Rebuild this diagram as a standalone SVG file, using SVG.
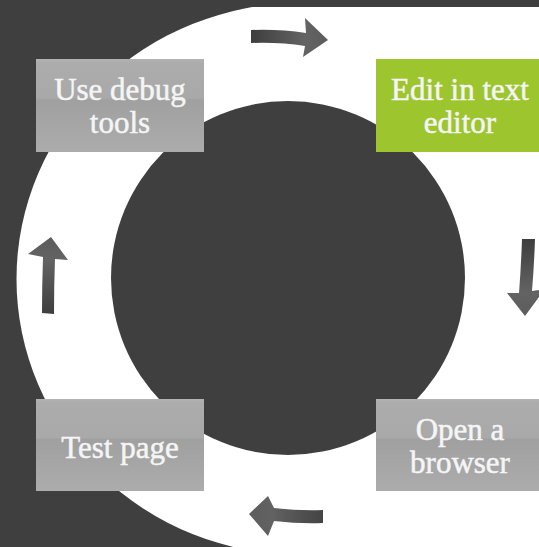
<svg xmlns="http://www.w3.org/2000/svg" width="539" height="547" viewBox="0 0 539 547">
  <defs>
    <linearGradient id="gloss" x1="0" y1="0" x2="0" y2="1">
      <stop offset="0" stop-color="#b3b3b3"/>
      <stop offset="0.04" stop-color="#acacac"/>
      <stop offset="0.42" stop-color="#a9a9a9"/>
      <stop offset="0.44" stop-color="#a0a0a0"/>
      <stop offset="1" stop-color="#acacac"/>
    </linearGradient>
    <linearGradient id="gR" x1="0" y1="0" x2="1" y2="0">
      <stop offset="0" stop-color="#3e3e3e"/>
      <stop offset="0.7" stop-color="#636363"/>
      <stop offset="1" stop-color="#5c5c5c"/>
    </linearGradient>
    <linearGradient id="gD" x1="0" y1="0" x2="0" y2="1">
      <stop offset="0" stop-color="#3e3e3e"/>
      <stop offset="0.7" stop-color="#636363"/>
      <stop offset="1" stop-color="#5c5c5c"/>
    </linearGradient>
    <linearGradient id="gL" x1="1" y1="0" x2="0" y2="0">
      <stop offset="0" stop-color="#444444"/>
      <stop offset="0.7" stop-color="#626262"/>
      <stop offset="1" stop-color="#5c5c5c"/>
    </linearGradient>
    <linearGradient id="gU" x1="0" y1="1" x2="0" y2="0">
      <stop offset="0" stop-color="#3e3e3e"/>
      <stop offset="0.7" stop-color="#636363"/>
      <stop offset="1" stop-color="#5c5c5c"/>
    </linearGradient>
  </defs>
  <style>
    .box { fill: url(#gloss); }
    .green { fill: #9cc52e; }
    .lbl { font-family: "Liberation Serif", "Times New Roman", serif; font-size: 31px; fill: #f5f5f5; stroke: #f5f5f5; stroke-width: 0.5px; text-anchor: middle; }
  </style>
  <rect x="0" y="0" width="539" height="547" fill="#3f3f3f"/>
  <ellipse cx="301.5" cy="279" rx="285" ry="276" fill="#ffffff"/>
  <rect x="300" y="0" width="239" height="547" fill="#ffffff"/>
  <rect x="0" y="0" width="539" height="7" fill="#3f3f3f"/>
  <circle cx="288" cy="278" r="177" fill="#3f3f3f"/>

  <g id="connectors">
    <path id="arrow-top" fill="url(#gR)" d="M251,30 Q280,29 306,33 L305,18 L328,40 L303,57 L305,46 Q280,42 251,43 Z"/>
    <path id="arrow-right" fill="url(#gD)" d="M522,239 L535,239 Q534,268 532,291 L545,289 L525,316 L507,293 L519,293 Q521,268 522,239 Z"/>
    <path id="arrow-bottom" fill="url(#gL)" d="M323,510 L323,523 Q300,524 274,521 L268,536 L249,514 L268,496 L274,508 Q300,511 323,510 Z"/>
    <path id="arrow-left" fill="url(#gU)" d="M42,313 L54,314 Q54,285 55,259 L68,260 L51,237 L28,254 L43,257 Q42,285 42,313 Z"/>
  </g>

  <g id="node-debug">
    <rect class="box" x="36" y="59" width="168" height="93"/>
    <text class="lbl" x="120" y="100">Use debug</text>
    <text class="lbl" x="120" y="133">tools</text>
  </g>
  <g id="node-edit">
    <rect class="green" x="376" y="59" width="168" height="93"/>
    <text class="lbl" x="460" y="100">Edit in text</text>
    <text class="lbl" x="460" y="133">editor</text>
  </g>
  <g id="node-browser">
    <rect class="box" x="376" y="399" width="168" height="92"/>
    <text class="lbl" x="460" y="440">Open a</text>
    <text class="lbl" x="460" y="473">browser</text>
  </g>
  <g id="node-test">
    <rect class="box" x="36" y="399" width="168" height="92"/>
    <text class="lbl" x="120" y="458">Test page</text>
  </g>
</svg>
